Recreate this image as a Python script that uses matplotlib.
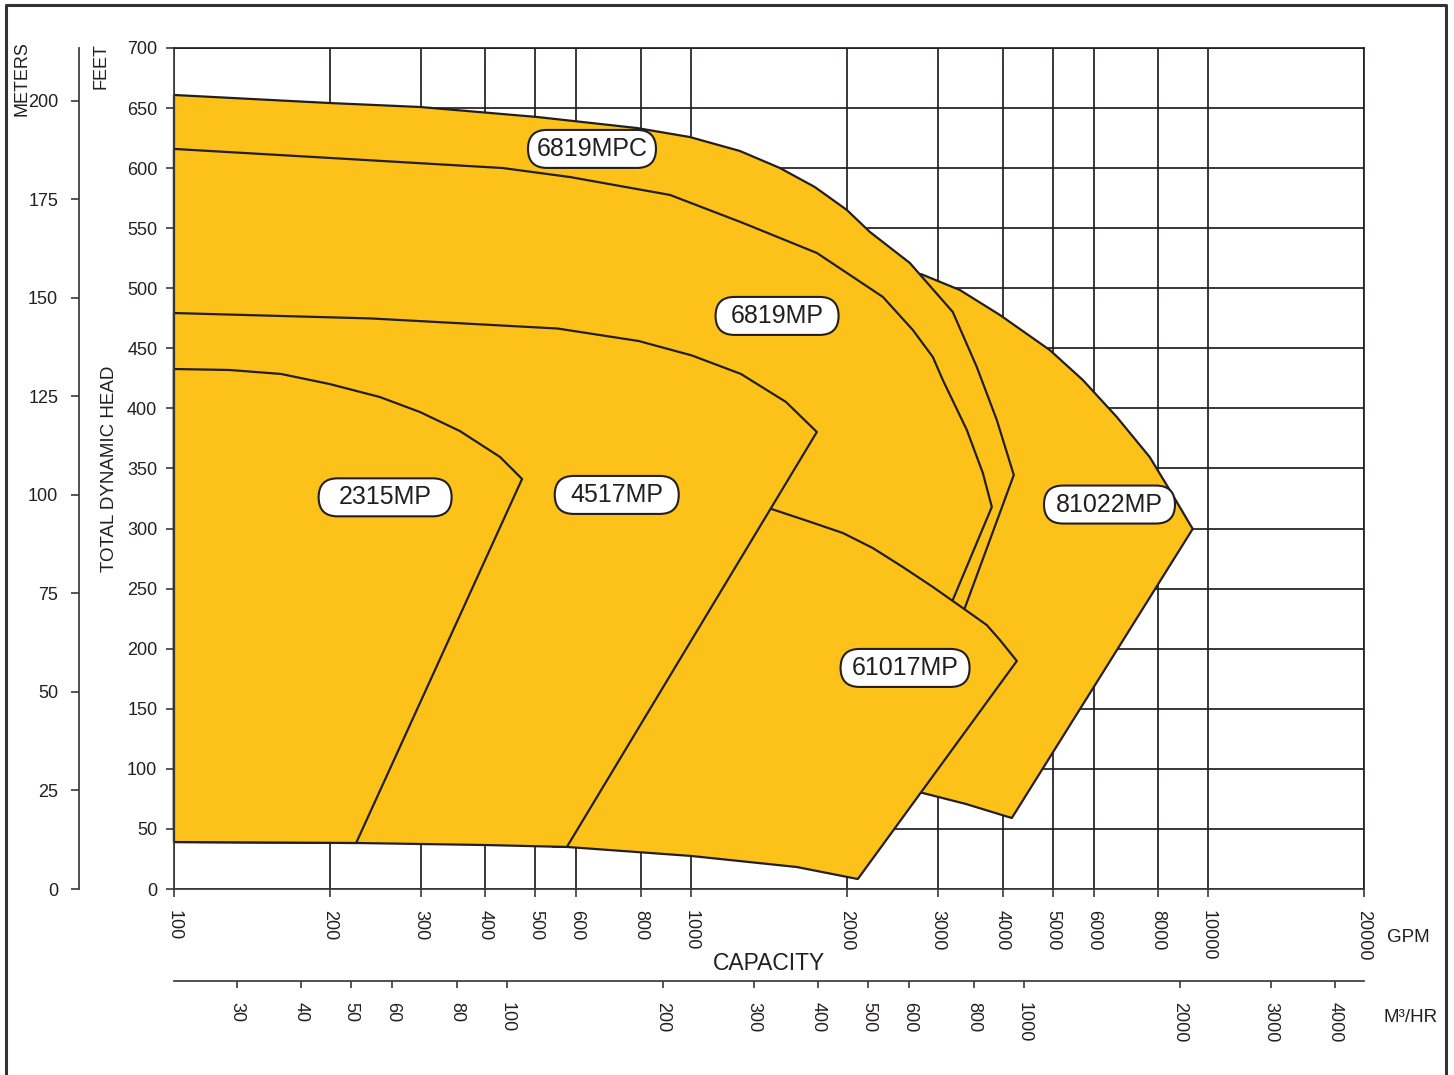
import matplotlib
matplotlib.use('Agg')
import matplotlib.pyplot as plt
from matplotlib.patches import Polygon, FancyBboxPatch
from matplotlib.lines import Line2D
from matplotlib.transforms import ScaledTranslation

plt.rcParams['font.family'] = ['Liberation Sans', 'DejaVu Sans']

YELLOW = '#FDC219'
INK = '#231F20'
AXC = '#3a3a3a'

W, H = 1454, 1075
GPM_PER_M3H = 4.402868

# common bottom limit of all curves (GPM, ft)
bottom_gpm = [100, 225, 400, 575, 1000, 1600, 2100]
bottom_ft = [39.1, 38.3, 36.6, 35.0, 27.5, 18.3, 8.3]

# 2315MP
mp2315_gpm = [100, 128, 161, 200, 250, 299, 357, 427, 471]
mp2315_ft = [432.8, 432.0, 428.7, 420.3, 409.5, 397.0, 381.2, 359.6, 341.3]

# 4517MP
mp4517_gpm = [100, 240, 552, 792, 1003, 1248, 1525, 1750]
mp4517_ft = [479.4, 474.9, 466.5, 456.1, 444.1, 428.7, 405.4, 380.4]

# 61017MP (top edge, right tip)
mp61017_gpm = [1400, 1430, 1696, 1965, 2245, 2566, 2933, 3351, 3729, 3953, 4263]
mp61017_ft = [317.6, 316.3, 305.7, 296.3, 283.8, 268.0, 251.4, 233.9, 219.7,
              207.3, 189.8]

# 6819MP
mp6819_gpm = [100, 200, 432, 583, 910, 1259, 1750, 2348, 2683, 2933, 3066,
              3412, 3664, 3814, 3205, 3093]
mp6819_ft = [616.0, 608.5, 600.1, 592.6, 577.7, 554.4, 529.4, 492.8, 465.3,
             442.8, 423.7, 382.1, 346.3, 318.0, 240.5, 222.2]

# 6819MPC
mpc6819_gpm = [100, 200, 299, 503, 785, 994, 1242, 1485, 1734, 2000, 2216,
               2647, 3205, 3567, 3899, 4206, 3382, 3233]
mpc6819_ft = [660.9, 654.2, 650.9, 642.6, 633.4, 625.9, 614.3, 600.1, 584.3,
              565.2, 546.9, 521.1, 480.3, 434.5, 390.4, 344.6, 233.9, 211.4]

# 81022MP
mp81022_gpm = [2589, 2780, 3307, 3953, 4937, 5718, 6652, 7701, 8420, 9328,
               4169, 3396, 2805, 2317, 2532]
mp81022_ft = [498.6, 511.9, 498.6, 477.8, 448.6, 423.7, 392.9, 359.6, 332.1,
              299.7, 59.1, 70.8, 79.9, 86.6, 240.5]

# part of the 6819 outlines that sits under the smaller pumps
under_gpm = [2894, 1039, 100]
under_ft = [157.3, 49.1, 49.1]

labels = ['6819MPC', '6819MP', '2315MP', '4517MP', '81022MP', '61017MP']
label_gpm = [643, 1466, 256, 718, 6440, 2592]
label_ft = [616, 477, 326, 328, 320, 184]
box_w = [1.28, 1.23, 1.33, 1.24, 1.31, 1.29]   # inches
BOX_H = 0.38

gpm_ticks = [100, 200, 300, 400, 500, 600, 800, 1000, 2000, 3000, 4000,
             5000, 6000, 8000, 10000, 20000]
m3h_ticks = [30, 40, 50, 60, 80, 100, 200, 300, 400, 500, 600, 800, 1000,
             2000, 3000, 4000]
ft_ticks = list(range(0, 701, 50))
m_ticks = list(range(0, 201, 25))


def below(limit):
    # bottom curve points left of the given capacity, right to left
    pts = [(g, f) for g, f in zip(bottom_gpm, bottom_ft) if g <= limit]
    return pts[::-1]


fig = plt.figure(figsize=(W / 100, H / 100), dpi=100)
ax = fig.add_axes([174 / W, 186 / H, 1190 / W, 841 / H])
ax.set_xscale('log')
ax.set_xlim(100, 20000)
ax.set_ylim(0, 700)
ax.set_axisbelow(True)
ax.grid(True, which='major', color=INK, lw=1.25)
ax.minorticks_off()
ax.set_xticks(gpm_ticks)
ax.set_xticklabels([str(t) for t in gpm_ticks])
ax.set_yticks(ft_ticks)
ax.tick_params(axis='both', direction='out', length=6, width=1.2,
               color=AXC, labelsize=13, labelcolor=INK)
ax.tick_params(axis='x', labelrotation=-90, pad=9)
ax.tick_params(axis='y', pad=6)
for s in ax.spines.values():
    s.set_color(INK)
    s.set_linewidth(1.25)
ax.spines['left'].set_color(AXC)
ax.spines['bottom'].set_color(AXC)

polys = []
polys.append(list(zip(mp81022_gpm, mp81022_ft)))
polys.append(list(zip(mpc6819_gpm, mpc6819_ft)) + list(zip(under_gpm, under_ft)))
polys.append(list(zip(mp6819_gpm, mp6819_ft)) + list(zip(under_gpm, under_ft)))
polys.append(list(zip(mp61017_gpm, mp61017_ft)) + below(2100)[:-3] + [(540, 35.3)])
polys.append(list(zip(mp4517_gpm, mp4517_ft)) + below(575))
polys.append(list(zip(mp2315_gpm, mp2315_ft)) + below(225))

for i, pts in enumerate(polys):
    ax.add_patch(Polygon(pts, closed=True, facecolor=YELLOW, edgecolor=INK,
                         lw=1.6, joinstyle='round', zorder=2 + i * 0.01,
                         clip_on=False))

for name, g, f, bw in zip(labels, label_gpm, label_ft, box_w):
    tr = fig.dpi_scale_trans + ScaledTranslation(g, f, ax.transData)
    ax.add_patch(FancyBboxPatch((-bw / 2, -BOX_H / 2), bw, BOX_H,
                                boxstyle='round,pad=0,rounding_size=%.3f' % (BOX_H / 2),
                                transform=tr, facecolor='white', edgecolor=INK,
                                lw=1.5, zorder=4, clip_on=False))
    ax.text(g, f, name, fontsize=18, color=INK, ha='center', va='center',
            zorder=5)

# meters scale
axm = fig.add_axes([79 / W, 186 / H, 0.0001, 841 / H])
axm.set_ylim(0, 700 * 0.3048)
axm.set_yticks(m_ticks)
axm.set_xticks([])
for k in ['top', 'right', 'bottom']:
    axm.spines[k].set_visible(False)
axm.spines['left'].set_color(AXC)
axm.spines['left'].set_linewidth(1.25)
axm.tick_params(axis='y', direction='out', length=6, width=1.2, color=AXC,
                labelsize=13, labelcolor=INK, pad=9)
axm.patch.set_visible(False)

# m3/hr scale
axb = fig.add_axes([174 / W, 94 / H, 1190 / W, 0.0001])
axb.set_xscale('log')
axb.set_xlim(100 / GPM_PER_M3H, 20000 / GPM_PER_M3H)
axb.minorticks_off()
axb.set_xticks(m3h_ticks)
axb.set_xticklabels([str(t) for t in m3h_ticks])
axb.set_yticks([])
for k in ['top', 'right', 'left']:
    axb.spines[k].set_visible(False)
axb.spines['bottom'].set_color(AXC)
axb.spines['bottom'].set_linewidth(1.25)
axb.tick_params(axis='x', direction='out', length=5, width=1.2, color=AXC,
                labelsize=13, labelcolor=INK, labelrotation=-90, pad=10)
axb.patch.set_visible(False)


def fxy(px, py):
    return px / W, 1 - py / H


fig.text(*fxy(22, 79), 'METERS', rotation=90, fontsize=13, color=INK,
         ha='center', va='center')
fig.text(*fxy(101, 66), 'FEET', rotation=90, fontsize=13, color=INK,
         ha='center', va='center')
fig.text(*fxy(109, 469), 'TOTAL DYNAMIC HEAD', rotation=90, fontsize=13.5,
         color=INK, ha='center', va='center')
fig.text(*fxy(769, 964), 'CAPACITY', fontsize=16.5, color=INK,
         ha='center', va='center')
fig.text(*fxy(1408, 937), 'GPM', fontsize=13.5, color=INK,
         ha='center', va='center')
fig.text(*fxy(1411, 1018), 'M³/HR', fontsize=13.5, color=INK,
         ha='center', va='center')

# page frame
x0, x1 = 6 / W, 1446 / W
yt = 1 - 5 / H
fig.add_artist(Line2D([x0, x0, x1, x1], [-0.01, yt, yt, -0.01],
                      transform=fig.transFigure, color='#333333', lw=2.2))

fig.savefig('out.png', dpi=100)
